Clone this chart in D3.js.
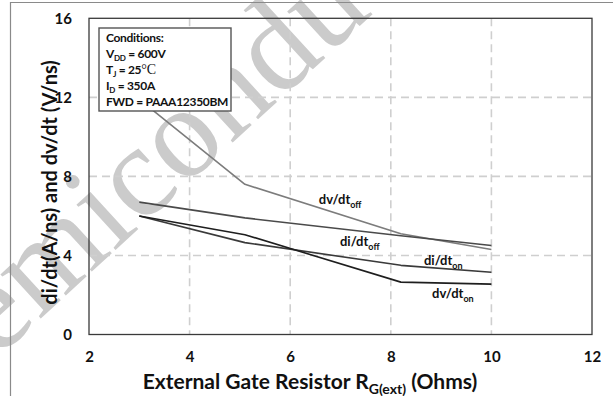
<!DOCTYPE html>
<html>
<head>
<meta charset="utf-8">
<script src="https://cdn.jsdelivr.net/npm/d3@7"></script>
<style>
  html, body { margin: 0; padding: 0; background: #fff; }
  svg { display: block; }
  text { font-family: Lato, "Open Sans", sans-serif; font-weight: bold; fill: #111; }
</style>
</head>
<body>
<svg id="chart" width="613" height="396"></svg>
<script>
// External gate resistance (Ohms) at which switching speeds were measured
const rg = [3, 5.1, 8.2, 10];

// Switching speeds (di/dt in A/ns, dv/dt in V/ns)
const dvdtOff = [11.9, 7.6, 5.1, 4.3];
const didtOff = [6.7, 5.9, 5.0, 4.5];
const didtOn  = [6.0, 4.65, 3.5, 3.15];
const dvdtOn  = [6.0, 5.05, 2.65, 2.55];

const xTicks = [2, 4, 6, 8, 10, 12];
const yTicks = [0, 4, 8, 12, 16];

const seriesNames = ["dv/dt_off", "di/dt_off", "di/dt_on", "dv/dt_on"];
const seriesColors = ["#7c7c7c", "#4a4a4a", "#3a3a3a", "#1e1e1e"];
// label anchor points in data units (Rg, value)
const labelRg  = [6.57, 6.99, 8.66, 8.82];
const labelVal = [6.58, 4.48, 3.52, 1.85];

const conditions = [
  ["Conditions:", null, ""],
  ["V", "DD", " = 600V"],
  ["T", "J", " = 25"],
  ["I", "D", " = 350A"],
  ["FWD = PAAA12350BM", null, ""]
];

const W = 613, H = 396;
const plot = { left: 89, right: 592, top: 18.3, bottom: 334.5 };

const svg = d3.select("#chart");

const x = d3.scaleLinear().domain([2, 12]).range([plot.left, plot.right]);
const y = d3.scaleLinear().domain([0, 16]).range([plot.bottom, plot.top]);

// faint watermark lettering behind the chart
svg.append("text")
  .attr("transform", "translate(-57,408) rotate(-42.5)")
  .style("font-family", "'Liberation Serif', 'DejaVu Serif', serif")
  .style("font-weight", "normal")
  .style("font-size", "130px")
  .style("fill", "#cbcbcb")
  .text("Semiconductor");

// outer frame (top and left edges)
svg.append("path")
  .attr("d", `M10.5,${H} V2.5 H${W}`)
  .attr("fill", "none")
  .attr("stroke", "#8a8a8a")
  .attr("stroke-width", 1.2);

// dashed grid
const grid = svg.append("g");
grid.selectAll("line.gx")
  .data(xTicks.filter(t => t > 2 && t < 12))
  .join("line")
  .attr("x1", d => x(d)).attr("x2", d => x(d))
  .attr("y1", plot.top).attr("y2", plot.bottom)
  .attr("stroke", "#cfcfcf").attr("stroke-width", 1.6)
  .attr("stroke-dasharray", "8,5");
grid.selectAll("line.gy")
  .data(yTicks.filter(t => t > 0 && t < 16))
  .join("line")
  .attr("x1", plot.left).attr("x2", plot.right)
  .attr("y1", d => y(d)).attr("y2", d => y(d))
  .attr("stroke", "#cfcfcf").attr("stroke-width", 1.6)
  .attr("stroke-dasharray", "8,5");

// plot border
svg.append("rect")
  .attr("x", plot.left).attr("y", plot.top)
  .attr("width", plot.right - plot.left).attr("height", plot.bottom - plot.top)
  .attr("fill", "none").attr("stroke", "#3a3a3a").attr("stroke-width", 1.3);

// axes (tick labels only)
const xAxis = svg.append("g")
  .attr("transform", `translate(0,${plot.bottom + 14})`)
  .call(d3.axisBottom(x).tickValues(xTicks).tickSize(0).tickFormat(d3.format("d")));
xAxis.select(".domain").remove();
xAxis.selectAll("text").style("font-size", "15px").style("font-family", "Lato, sans-serif").style("font-weight", "bold").attr("fill", "#111");

const yAxis = svg.append("g")
  .attr("transform", `translate(${plot.left - 14},0)`)
  .call(d3.axisLeft(y).tickValues(yTicks).tickSize(0).tickFormat(d3.format("d")));
yAxis.select(".domain").remove();
yAxis.selectAll("text").style("font-size", "15px").style("font-family", "Lato, sans-serif").style("font-weight", "bold").attr("fill", "#111");

// series lines
const allSeries = [dvdtOff, didtOff, didtOn, dvdtOn];
const line = d3.line().x(d => x(d[0])).y(d => y(d[1]));
allSeries.forEach((vals, i) => {
  svg.append("path")
    .datum(rg.map((r, j) => [r, vals[j]]))
    .attr("d", line)
    .attr("fill", "none")
    .attr("stroke", seriesColors[i])
    .attr("stroke-width", 1.6)
    .attr("stroke-linejoin", "round");
});

// series labels with subscripts
seriesNames.forEach((name, i) => {
  const [main, sub] = name.split("_");
  const t = svg.append("text")
    .attr("x", x(labelRg[i])).attr("y", y(labelVal[i]))
    .style("font-size", "13px");
  t.append("tspan").text(main);
  t.append("tspan").attr("dy", 4).style("font-size", "9px").text(sub);
});

// conditions box
const box = svg.append("g").attr("transform", "translate(99,28)");
box.append("rect")
  .attr("width", 132).attr("height", 83)
  .attr("fill", "#fff").attr("stroke", "#555").attr("stroke-width", 1.4);
conditions.forEach((c, i) => {
  const t = box.append("text")
    .attr("x", 7).attr("y", 14 + i * 16)
    .style("font-size", "12px")
    .style("letter-spacing", "-0.3px");
  t.append("tspan").text(c[0]);
  if (c[1]) {
    t.append("tspan").attr("dy", 3).style("font-size", "8px").text(c[1]);
    t.append("tspan").attr("dy", -3).text(c[2]);
  }
  if (c[0] === "T") {
    t.append("tspan")
      .style("font-family", "'Liberation Serif', serif")
      .style("font-weight", "normal")
      .style("font-size", "14px")
      .style("letter-spacing", "0px")
      .text("\u00B0C");
  }
});

// axis titles
const xt = svg.append("text")
  .attr("x", 310).attr("y", 389)
  .attr("text-anchor", "middle")
  .style("font-size", "21px");
xt.append("tspan").text("External Gate Resistor R");
xt.append("tspan").attr("dy", 5).style("font-size", "14px").text("G(ext)");
xt.append("tspan").attr("dy", -5).text(" (Ohms)");

svg.append("text")
  .attr("transform", `translate(57,${(plot.top + plot.bottom) / 2 + 6}) rotate(-90)`)
  .attr("text-anchor", "middle")
  .style("font-size", "20px")
  .text("di/dt(A/ns) and dv/dt (V/ns)");
</script>
</body>
</html>
